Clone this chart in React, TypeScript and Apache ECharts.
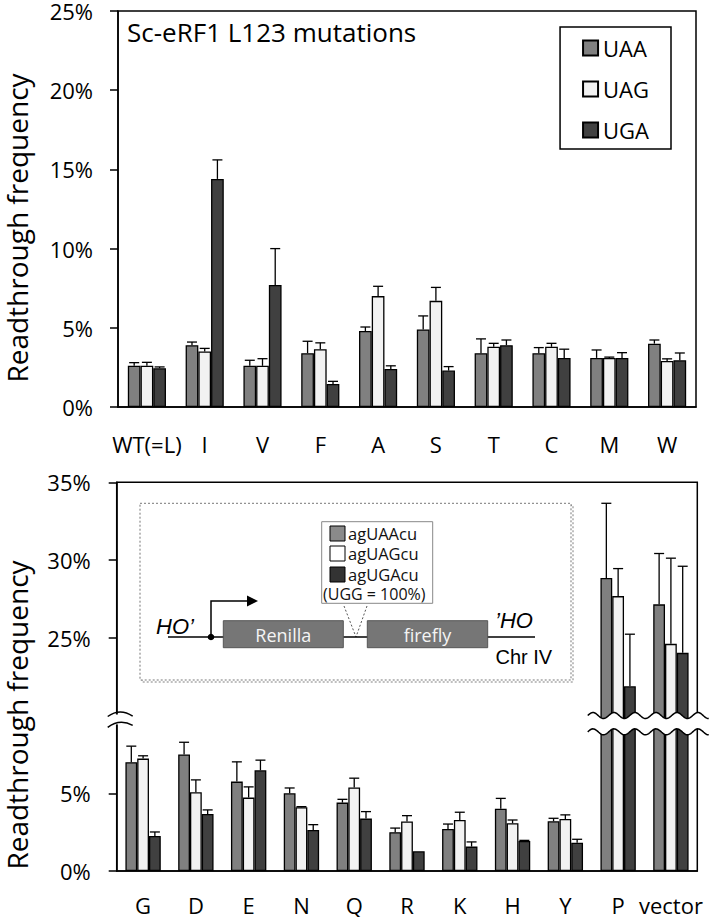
import React, { useEffect, useRef } from "react";
import * as echarts from "echarts";

// ---------- Top panel data ----------
const cats1 = ["WT(=L)", "I", "V", "F", "A", "S", "T", "C", "M", "W"];
const uaa1 = [2.6, 3.9, 2.6, 3.4, 4.8, 4.9, 3.4, 3.4, 3.1, 4.0];
const uaa1Err = [0.2, 0.2, 0.35, 0.75, 0.25, 0.85, 0.9, 0.35, 0.5, 0.23];
const uag1 = [2.6, 3.5, 2.6, 3.65, 7.0, 6.7, 3.8, 3.8, 3.1, 2.9];
const uag1Err = [0.22, 0.2, 0.45, 0.4, 0.62, 0.85, 0.22, 0.22, 0.05, 0.14];
const uga1 = [2.45, 14.4, 7.7, 1.45, 2.4, 2.3, 3.9, 3.1, 3.1, 2.95];
const uga1Err = [0.08, 1.2, 2.3, 0.17, 0.2, 0.25, 0.33, 0.55, 0.33, 0.46];
const yTicks1 = [0, 5, 10, 15, 20, 25];

// ---------- Bottom panel data ----------
const cats2 = ["G", "D", "E", "N", "Q", "R", "K", "H", "Y", "P", "vector"];
const uaa2 = [7.0, 7.5, 5.75, 5.0, 4.4, 2.5, 2.7, 4.0, 3.2, 28.85, 27.15];
const uaa2Err = [1.03, 0.78, 1.27, 0.34, 0.21, 0.26, 0.32, 0.67, 0.19, 4.8, 3.27];
const uag2 = [7.23, 5.07, 4.72, 4.1, 5.37, 3.18, 3.28, 3.07, 3.35, 27.68, 24.61];
const uag2Err = [0.18, 0.79, 0.69, 0.04, 0.6, 0.38, 0.5, 0.21, 0.26, 1.77, 5.51];
const uga2 = [2.25, 3.67, 6.48, 2.64, 3.37, 1.27, 1.57, 1.93, 1.82, 21.88, 24.03];
const uga2Err = [0.26, 0.26, 0.65, 0.34, 0.45, 0, 0.3, 0.04, 0.22, 3.35, 5.57];
const yTickLabels2 = ["0%", "5%", "25%", "30%", "35%"];
const yTickReal2 = [0, 5, 25, 30, 35];

const seriesNames1 = ["UAA", "UAG", "UGA"];
const seriesNames2 = ["agUAAcu", "agUAGcu", "agUGAcu", "(UGG = 100%)"];
const yAxisTitle = "Readthrough frequency";

const COLORS = ["#808080", "#f2f2f2", "#404040"];
const FONT = "Open Sans";

// axis break: values above 15 are shifted down by 10 on the display scale
const BREAK_SHIFT = 10;
const toDisp = (v: number) => (v > 15 ? v - BREAK_SHIFT : v);
function toDispIf(gi: number) {
  return (v: number) => (gi === 1 ? toDisp(v) : v);
}

function barSeries(name: string, data: number[], k: number, gi: number, gap: number) {
  return {
    type: "bar",
    name,
    xAxisIndex: gi,
    yAxisIndex: gi,
    data: data.map(toDispIf(gi)),
    barGap: "0%",
    barCategoryGap: `${Math.round(gap * 100)}%`,
    itemStyle: { color: COLORS[k], borderColor: "#000", borderWidth: 1.3 },
  };
}

function errSeries(name: string, vals: number[], errs: number[], k: number, gi: number, gap: number) {
  const m = toDispIf(gi);
  return {
    type: "custom",
    name,
    xAxisIndex: gi,
    yAxisIndex: gi,
    z: 5,
    data: vals.map((v, i) => [i, m(v + errs[i]), m(v)]),
    encode: { x: 0, y: 1 },
    renderItem: (params: any, api: any) => {
      const i = api.value(0);
      const top = api.value(1);
      const val = api.value(2);
      if (top - val < 1e-6) return null;
      const band = api.size([1, 0])[0];
      const bw = (band * (1 - gap)) / 3;
      const c = api.coord([i, val]);
      const x = c[0] + (k - 1) * bw;
      const yt = api.coord([i, top])[1];
      const st = { stroke: "#000", lineWidth: 1.3 };
      return {
        type: "group",
        children: [
          { type: "line", shape: { x1: x, y1: c[1], x2: x, y2: yt }, style: st },
          { type: "line", shape: { x1: x - 5, y1: yt, x2: x + 5, y2: yt }, style: st },
        ],
      };
    },
  };
}

export default function App() {
  const ref = useRef<HTMLDivElement>(null);
  useEffect(() => {
    document.body.style.margin = "0";
    const chart = echarts.init(ref.current!, undefined, { renderer: "svg" });
    const axisLineStyle = { color: "#000", width: 1.5 };
    const gap1 = 0.34;
    const gap2 = 0.33;
    const option: any = {
      animation: false,
      backgroundColor: "#fff",
      textStyle: { fontFamily: FONT },
      title: {
        text: "Sc-eRF1 L123 mutations",
        left: 127,
        top: 19,
        padding: 0,
        textStyle: { fontSize: 26, fontWeight: "normal", color: "#000", fontFamily: FONT },
      },
      legend: {
        data: seriesNames1,
        orient: "vertical",
        right: 38,
        top: 27,
        borderColor: "#000",
        borderWidth: 1.5,
        padding: [8, 22, 6, 22],
        itemWidth: 15,
        itemHeight: 15,
        itemGap: 15,
        icon: "rect",
        selectedMode: false,
        textStyle: { fontSize: 22, color: "#000", fontFamily: FONT, lineHeight: 26 },
      },
      grid: [
        { left: 118, top: 6, width: 578, height: 401, show: true, borderColor: "#000", borderWidth: 1.5 },
        { left: 116.7, top: 482.3, width: 580.6, height: 388.7, show: true, borderColor: "#000", borderWidth: 1.5 },
      ],
      xAxis: [
        {
          type: "category",
          gridIndex: 0,
          data: cats1,
          axisLine: { lineStyle: axisLineStyle },
          axisTick: { length: 8, lineStyle: axisLineStyle },
          axisLabel: { fontSize: 22, color: "#000", margin: 26, interval: 0, fontFamily: FONT },
        },
        {
          type: "category",
          gridIndex: 1,
          data: cats2,
          axisLine: { lineStyle: axisLineStyle },
          axisTick: { length: 8, lineStyle: axisLineStyle },
          axisLabel: { fontSize: 22, color: "#000", margin: 23, interval: 0, fontFamily: FONT },
        },
      ],
      yAxis: [
        {
          type: "value",
          gridIndex: 0,
          min: yTicks1[0],
          max: yTicks1[yTicks1.length - 1],
          interval: 5,
          axisLine: { show: true, lineStyle: axisLineStyle },
          axisTick: { show: true, length: 8, lineStyle: axisLineStyle },
          splitLine: { show: false },
          axisLabel: {
            formatter: "{value}%",
            fontSize: 22,
            color: "#000",
            margin: 25,
            padding: [6, 0, 0, 0],
            fontFamily: FONT,
          },
        },
        {
          type: "value",
          gridIndex: 1,
          min: 0,
          max: toDisp(35),
          interval: 5,
          axisLine: { show: true, lineStyle: axisLineStyle },
          axisTick: {
            show: true,
            length: 8,
            lineStyle: axisLineStyle,
            customValues: yTickReal2.map(toDisp),
          },
          splitLine: { show: false },
          axisLabel: {
            customValues: yTickReal2.map(toDisp),
            formatter: (v: number) => {
              const idx = yTickReal2.map(toDisp).indexOf(v);
              return idx >= 0 ? yTickLabels2[idx] : "";
            },
            fontSize: 22,
            color: "#000",
            margin: 26,
            padding: [5, 0, 0, 0],
            fontFamily: FONT,
          },
        },
      ],
      series: [
        barSeries(seriesNames1[0], uaa1, 0, 0, gap1),
        barSeries(seriesNames1[1], uag1, 1, 0, gap1),
        barSeries(seriesNames1[2], uga1, 2, 0, gap1),
        errSeries("e1a", uaa1, uaa1Err, 0, 0, gap1),
        errSeries("e1b", uag1, uag1Err, 1, 0, gap1),
        errSeries("e1c", uga1, uga1Err, 2, 0, gap1),
        barSeries(seriesNames2[0], uaa2, 0, 1, gap2),
        barSeries(seriesNames2[1], uag2, 1, 1, gap2),
        barSeries(seriesNames2[2], uga2, 2, 1, gap2),
        errSeries("e2a", uaa2, uaa2Err, 0, 1, gap2),
        errSeries("e2b", uag2, uag2Err, 1, 1, gap2),
        errSeries("e2c", uga2, uga2Err, 2, 1, gap2),
      ],
    };
    chart.setOption(option);

    // ---------- decorations: axis titles, axis break, inset diagram ----------
    const py = (v: number) => chart.convertToPixel({ yAxisIndex: 1 } as any, v) as number;
    const px = (i: number) => chart.convertToPixel({ xAxisIndex: 1 } as any, i) as number;
    const band = px(1) - px(0);
    const axX = px(0) - band / 2;
    const yU = py(10);
    const yL = py(8.95);
    const x0 = px(9) - band / 2 - 4;
    const x1 = 709;
    const A = 3;
    const P = 21;
    const wave = (yc: number) => {
      const pts: number[][] = [];
      for (let x = x0; x <= x1 + 0.01; x += 1) {
        pts.push([x, yc - A * Math.sin(((x - x0) / P) * 2 * Math.PI)]);
      }
      return pts;
    };
    const up = wave(yU);
    const lo = wave(yL);
    const gapPoly = up.concat(lo.slice().reverse());
    const yA = py(10);
    const yB = py(9.3);

    const textBase = { fill: "#111", fontFamily: FONT };
    const graphic: any[] = [
      // y axis titles
      {
        type: "text",
        x: 16.5,
        y: 228,
        rotation: Math.PI / 2,
        style: { text: yAxisTitle, fontSize: 28, lineHeight: 28, fontFamily: FONT, fill: "#000", align: "center", verticalAlign: "middle" },
      },
      {
        type: "text",
        x: 16.5,
        y: 715,
        rotation: Math.PI / 2,
        style: { text: yAxisTitle, fontSize: 28, lineHeight: 28, fontFamily: FONT, fill: "#000", align: "center", verticalAlign: "middle" },
      },
      // break across P / vector bars
      { type: "polygon", z: 100, shape: { points: gapPoly }, style: { fill: "#fff", stroke: "none" } },
      { type: "polyline", z: 101, shape: { points: up }, style: { stroke: "#000", lineWidth: 1.5, fill: "none" } },
      { type: "polyline", z: 101, shape: { points: lo }, style: { stroke: "#000", lineWidth: 1.5, fill: "none" } },
      // break on y axis
      { type: "rect", z: 100, shape: { x: axX - 3, y: yA - 1, width: 6, height: yB - yA - 1 }, style: { fill: "#fff" } },
      {
        type: "bezierCurve",
        z: 101,
        shape: { x1: axX - 9, y1: yA + 1, cpx1: axX + 3, cpy1: yA - 8, x2: axX + 16, y2: yA + 0.5 },
        style: { stroke: "#000", lineWidth: 1.5, fill: "none" },
      },
      {
        type: "bezierCurve",
        z: 101,
        shape: { x1: axX - 9, y1: yB + 1, cpx1: axX + 3, cpy1: yB - 8, x2: axX + 16, y2: yB - 1 },
        style: { stroke: "#000", lineWidth: 1.5, fill: "none" },
      },
      // inset frame with shadow
      { type: "rect", z: 50, shape: { x: 142, y: 505.3, width: 431, height: 176.7 }, style: { fill: "none", stroke: "#aaa", lineWidth: 1.5, lineDash: [2, 2] } },
      { type: "rect", z: 51, shape: { x: 140, y: 503.3, width: 431, height: 176.7 }, style: { fill: "#fff", stroke: "#777", lineWidth: 1, lineDash: [2, 2] } },
      // inset legend
      { type: "rect", z: 52, shape: { x: 321.7, y: 521.7, width: 111, height: 81.6 }, style: { fill: "#fff", stroke: "#888", lineWidth: 1 } },
      { type: "rect", z: 53, shape: { x: 330, y: 526, width: 15, height: 15 }, style: { fill: "#8a8a8a", stroke: "#000", lineWidth: 1 } },
      { type: "rect", z: 53, shape: { x: 330, y: 546, width: 15, height: 15 }, style: { fill: "#fff", stroke: "#000", lineWidth: 1 } },
      { type: "rect", z: 53, shape: { x: 330, y: 567, width: 15, height: 15 }, style: { fill: "#333", stroke: "#000", lineWidth: 1 } },
      { type: "text", z: 53, style: { ...textBase, text: seriesNames2[0], x: 348, y: 533.5, fontSize: 16.5, lineHeight: 17, verticalAlign: "middle" } },
      { type: "text", z: 53, style: { ...textBase, text: seriesNames2[1], x: 348, y: 553.5, fontSize: 16.5, lineHeight: 17, verticalAlign: "middle" } },
      { type: "text", z: 53, style: { ...textBase, text: seriesNames2[2], x: 348, y: 574, fontSize: 16.5, lineHeight: 17, verticalAlign: "middle" } },
      { type: "text", z: 53, style: { ...textBase, text: seriesNames2[3], x: 323, y: 594.3, fontSize: 16, lineHeight: 16, verticalAlign: "middle" } },
      // dotted pointer lines
      { type: "line", z: 52, shape: { x1: 344, y1: 606, x2: 356, y2: 637 }, style: { stroke: "#555", lineWidth: 1, lineDash: [2, 2] } },
      { type: "line", z: 52, shape: { x1: 367, y1: 606, x2: 356, y2: 637 }, style: { stroke: "#555", lineWidth: 1, lineDash: [2, 2] } },
      // main construct line
      { type: "line", z: 52, shape: { x1: 168, y1: 637, x2: 535, y2: 637 }, style: { stroke: "#000", lineWidth: 1.5 } },
      { type: "circle", z: 54, shape: { cx: 211, cy: 637, r: 3.3 }, style: { fill: "#000" } },
      { type: "polyline", z: 53, shape: { points: [[211, 637], [211, 601], [250, 601]] }, style: { stroke: "#000", lineWidth: 1.5, fill: "none" } },
      { type: "polygon", z: 53, shape: { points: [[247, 595.5], [258, 601], [247, 606.5]] }, style: { fill: "#000" } },
      { type: "rect", z: 53, shape: { x: 223.3, y: 620.7, width: 120, height: 27 }, style: { fill: "#767676", stroke: "#555", lineWidth: 1 } },
      { type: "rect", z: 53, shape: { x: 367.3, y: 620.7, width: 120.4, height: 27 }, style: { fill: "#767676", stroke: "#555", lineWidth: 1 } },
      { type: "text", z: 54, style: { text: "Renilla", x: 283.3, y: 634.5, fontSize: 18, fontFamily: FONT, fill: "#f4f4f4", align: "center", verticalAlign: "middle" } },
      { type: "text", z: 54, style: { text: "firefly", x: 427.5, y: 634.5, fontSize: 18, fontFamily: FONT, fill: "#f4f4f4", align: "center", verticalAlign: "middle" } },
      { type: "text", z: 54, style: { text: "HO\u2019", x: 156, y: 626, fontSize: 22, fontStyle: "italic", fontFamily: "Liberation Sans", fill: "#000", verticalAlign: "middle" } },
      { type: "text", z: 54, style: { text: "\u2019HO", x: 495, y: 620.5, fontSize: 22, fontStyle: "italic", fontFamily: "Liberation Sans", fill: "#000", verticalAlign: "middle" } },
      { type: "text", z: 54, style: { text: "Chr IV", x: 495.5, y: 656.5, fontSize: 20, fontFamily: "Liberation Sans", fill: "#000", verticalAlign: "middle" } },
    ];
    chart.setOption({ graphic });

    return () => chart.dispose();
  }, []);
  return <div ref={ref} style={{ width: 709, height: 917 }} />;
}
